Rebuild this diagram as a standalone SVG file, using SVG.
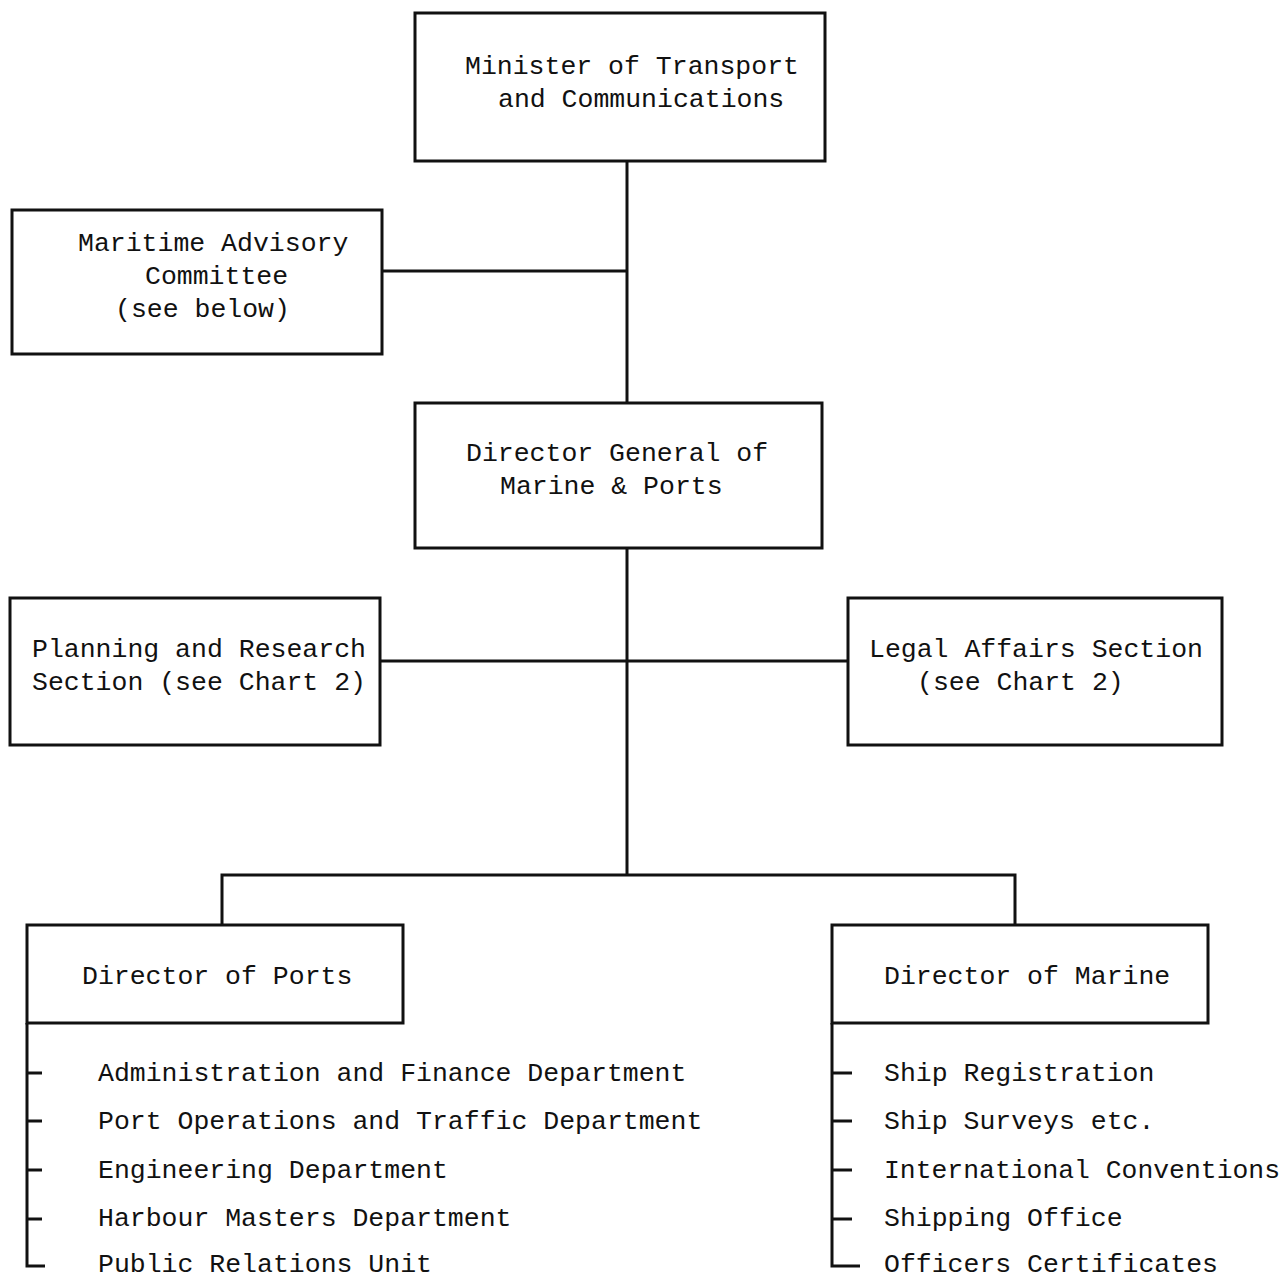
<svg xmlns="http://www.w3.org/2000/svg" width="1286" height="1280" viewBox="0 0 1286 1280">
<style>
.box{fill:none;stroke:#111;stroke-width:3}
.ln{fill:none;stroke:#111;stroke-width:3}
text{font-family:"Liberation Mono","DejaVu Sans Mono",monospace;font-size:26.5px;fill:#111}
</style>
<rect width="1286" height="1280" fill="#fff"/>
<g id="connectors">
<line class="ln" x1="627" y1="160" x2="627" y2="403"/>
<line class="ln" x1="382" y1="271" x2="627" y2="271"/>
<line class="ln" x1="627" y1="548" x2="627" y2="875"/>
<line class="ln" x1="380" y1="661" x2="848" y2="661"/>
<polyline class="ln" points="222,925 222,875 1015,875 1015,925"/>
<polyline class="ln" points="27,1023 27,1266 45,1266"/>
<line class="ln" x1="27" y1="1073" x2="42" y2="1073"/>
<line class="ln" x1="27" y1="1121" x2="42" y2="1121"/>
<line class="ln" x1="27" y1="1170" x2="42" y2="1170"/>
<line class="ln" x1="27" y1="1219" x2="42" y2="1219"/>
<polyline class="ln" points="832,1023 832,1266 860,1266"/>
<line class="ln" x1="832" y1="1073" x2="852" y2="1073"/>
<line class="ln" x1="832" y1="1121" x2="852" y2="1121"/>
<line class="ln" x1="832" y1="1170" x2="852" y2="1170"/>
<line class="ln" x1="832" y1="1219" x2="852" y2="1219"/>
</g>
<g id="minister">
<rect class="box" x="415" y="13" width="410" height="148"/>
<text x="465" y="74">Minister of Transport</text>
<text x="498" y="107">and Communications</text>
</g>
<g id="maritime">
<rect class="box" x="12" y="210" width="370" height="144"/>
<text x="78" y="251">Maritime Advisory</text>
<text x="145" y="284">Committee</text>
<text x="115" y="317">(see below)</text>
</g>
<g id="dg">
<rect class="box" x="415" y="403" width="407" height="145"/>
<text x="466" y="461">Director General of</text>
<text x="500" y="494">Marine &amp; Ports</text>
</g>
<g id="planning">
<rect class="box" x="10" y="598" width="370" height="147"/>
<text x="32" y="657">Planning and Research</text>
<text x="32" y="690">Section (see Chart 2)</text>
</g>
<g id="legal">
<rect class="box" x="848" y="598" width="374" height="147"/>
<text x="869" y="657">Legal Affairs Section</text>
<text x="917" y="690">(see Chart 2)</text>
</g>
<g id="ports">
<rect class="box" x="27" y="925" width="376" height="98"/>
<text x="82" y="984">Director of Ports</text>
<text x="98" y="1081">Administration and Finance Department</text>
<text x="98" y="1129">Port Operations and Traffic Department</text>
<text x="98" y="1178">Engineering Department</text>
<text x="98" y="1226">Harbour Masters Department</text>
<text x="98" y="1272">Public Relations Unit</text>
</g>
<g id="marine">
<rect class="box" x="832" y="925" width="376" height="98"/>
<text x="884" y="984">Director of Marine</text>
<text x="884" y="1081">Ship Registration</text>
<text x="884" y="1129">Ship Surveys etc.</text>
<text x="884" y="1178" textLength="396" lengthAdjust="spacingAndGlyphs">International Conventions</text>
<text x="884" y="1226">Shipping Office</text>
<text x="884" y="1272">Officers Certificates</text>
</g>
</svg>
